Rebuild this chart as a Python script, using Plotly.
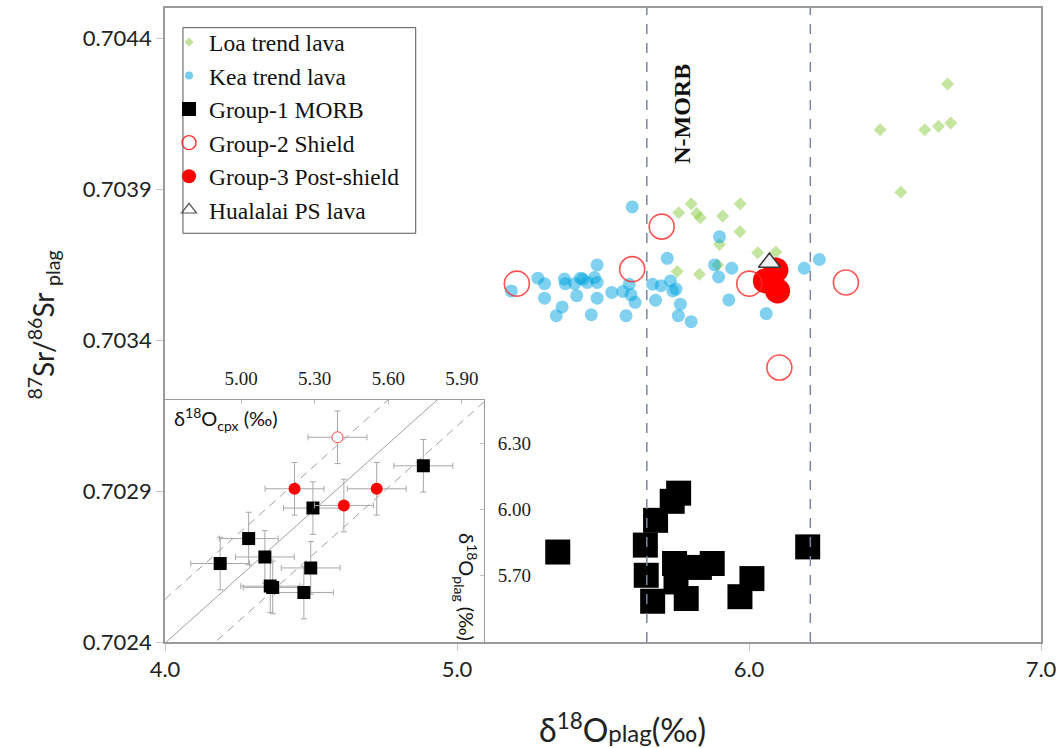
import plotly.graph_objects as go

# ---- Loa-trend lavas (d18O plag, 87Sr/86Sr plag)
loa_x = [5.759, 5.802, 5.821, 5.833, 5.910, 5.970, 5.969, 5.899, 6.030, 6.092,
         5.754, 5.830, 5.893, 6.680, 6.449, 6.602, 6.649, 6.691, 6.520]
loa_y = [0.703822, 0.703852, 0.703819, 0.703805, 0.703811, 0.703852, 0.703759, 0.703717, 0.703689, 0.703692,
         0.703627, 0.703618, 0.703649, 0.704248, 0.704097, 0.704097, 0.704108, 0.704119, 0.703890]

# ---- Kea-trend lavas
kea_x = [5.480, 5.186, 5.277, 5.300, 5.300, 5.340, 5.360, 5.368, 5.371, 5.403,
         5.410, 5.423, 5.431, 5.446, 5.471, 5.480, 5.480, 5.460, 5.530, 5.568,
         5.590, 5.596, 5.610, 5.579, 5.600, 5.670, 5.680, 5.699, 5.720, 5.731,
         5.739, 5.750, 5.765, 5.758, 5.802, 5.899, 5.882, 5.896, 5.941, 5.931,
         6.059, 6.189, 6.241]
kea_y = [0.703649, 0.703563, 0.703605, 0.703587, 0.703539, 0.703481, 0.703510, 0.703602, 0.703587, 0.703587,
         0.703547, 0.703605, 0.703602, 0.703591, 0.703607, 0.703591, 0.703539, 0.703484, 0.703558, 0.703561,
         0.703585, 0.703550, 0.703525, 0.703481, 0.703841, 0.703585, 0.703532, 0.703580, 0.703671, 0.703596,
         0.703563, 0.703569, 0.703519, 0.703481, 0.703461, 0.703742, 0.703649, 0.703609, 0.703638, 0.703533,
         0.703488, 0.703638, 0.703667]

# ---- Group-1 MORB
g1_x = [5.345, 5.759, 5.737, 5.680, 5.645, 5.648, 5.670, 5.745, 5.874, 5.830,
        5.750, 5.785, 6.010, 5.969, 6.201]
g1_y = [0.702698, 0.702893, 0.702866, 0.702803, 0.702721, 0.702621, 0.702535, 0.702660, 0.702660, 0.702647,
        0.702599, 0.702544, 0.702610, 0.702550, 0.702715]

# ---- Group-2 Shield
g2_x = [5.205, 5.600, 5.701, 6.001, 6.332, 6.104]
g2_y = [0.703587, 0.703635, 0.703776, 0.703587, 0.703591, 0.703309]

# ---- Group-3 Post-shield
g3_x = [6.092, 6.098, 6.056]
g3_y = [0.703632, 0.703563, 0.703596]

# ---- Hualalai post-shield lava
hu_x = [6.070]
hu_y = [0.703657]

# ---- N-MORB d18O plag range
nmorb_bounds = [5.65, 6.21]

# ---- Inset: d18O cpx vs d18O plag
in_g1_cpx = [5.743, 5.293, 5.031, 5.097, 4.915, 5.284, 5.119, 5.129, 5.256]
in_g1_plag = [6.199, 6.006, 5.867, 5.783, 5.753, 5.733, 5.650, 5.644, 5.621]
in_g2_cpx = [5.393]
in_g2_plag = [6.329]
in_g3_cpx = [5.218, 5.553, 5.419]
in_g3_plag = [6.094, 6.094, 6.018]
inset_err = 0.12
fractionation = [0.5, 0.7, 0.9]   # plag - cpx offsets
inset_xrange = [4.69, 5.99]
inset_yrange = [5.395, 6.50]

main_ticks_x = [4.0, 5.0, 6.0, 7.0]
main_ticks_y = [0.7024, 0.7029, 0.7034, 0.7039, 0.7044]
inset_ticks_x = [5.00, 5.30, 5.60, 5.90]
inset_ticks_y = [5.70, 6.00, 6.30]

SANS = "Lato"
SERIF = "Liberation Serif"
AX = "#9a9a9a"
SHIELD_RED = "rgba(255,40,40,0.8)"

fig = go.Figure()

# main data
fig.add_trace(go.Scatter(x=loa_x, y=loa_y, mode="markers", showlegend=False,
                         marker=dict(symbol="diamond", size=10, color="rgba(146,208,80,0.55)",
                                     line=dict(width=0))))
fig.add_trace(go.Scatter(x=kea_x, y=kea_y, mode="markers", showlegend=False,
                         marker=dict(symbol="circle", size=13, color="rgba(0,164,224,0.5)",
                                     line=dict(width=0))))
fig.add_trace(go.Scatter(x=g1_x, y=g1_y, mode="markers", showlegend=False,
                         marker=dict(symbol="square", size=25, color="black", line=dict(width=0))))
fig.add_trace(go.Scatter(x=g3_x, y=g3_y, mode="markers", showlegend=False,
                         marker=dict(symbol="circle", size=25, color="#ff0000", line=dict(width=0))))
fig.add_trace(go.Scatter(x=g2_x, y=g2_y, mode="markers", showlegend=False,
                         marker=dict(symbol="circle-open", size=25, color=SHIELD_RED,
                                     line=dict(width=1.6))))
fig.add_trace(go.Scatter(x=hu_x, y=hu_y, mode="markers", showlegend=False,
                         marker=dict(symbol="triangle-up", size=19, color="#eef0f0",
                                     line=dict(width=1.5, color="#3a3a3a"))))

# legend entries
legend_items = [
    ("Loa trend lava", dict(symbol="diamond", size=7, color="rgba(146,208,80,0.6)", line=dict(width=0))),
    ("Kea trend lava", dict(symbol="circle", size=8, color="rgba(0,164,224,0.55)", line=dict(width=0))),
    ("Group-1 MORB", dict(symbol="square", size=14, color="black", line=dict(width=0))),
    ("Group-2 Shield", dict(symbol="circle-open", size=14, color="#ff3030", line=dict(width=1.4))),
    ("Group-3 Post-shield", dict(symbol="circle", size=14, color="#ff0000", line=dict(width=0))),
    ("Hualalai PS lava", dict(symbol="triangle-up-open", size=13, color="#555555", line=dict(width=1.2))),
]
for i, (name, mk) in enumerate(legend_items):
    fig.add_trace(go.Scatter(x=[None], y=[None], mode="markers", name=name, marker=mk,
                             legendgroup=f"g{i}", showlegend=True))

# inset reference lines plag = cpx + offset
for off in fractionation:
    fig.add_trace(go.Scatter(x=inset_xrange, y=[v + off for v in inset_xrange], mode="lines",
                             xaxis="x2", yaxis="y2", showlegend=False, hoverinfo="skip",
                             line=dict(color="#a0a0a0", width=1,
                                       dash="solid" if off == 0.7 else "8px,6px")))

err = dict(type="constant", value=inset_err, color="#a8a8a8", thickness=1, width=3)
fig.add_trace(go.Scatter(x=in_g1_cpx, y=in_g1_plag, mode="markers", xaxis="x2", yaxis="y2",
                         showlegend=False, error_x=err, error_y=err,
                         marker=dict(symbol="square", size=13, color="black")))
fig.add_trace(go.Scatter(x=in_g3_cpx, y=in_g3_plag, mode="markers", xaxis="x2", yaxis="y2",
                         showlegend=False, error_x=err, error_y=err,
                         marker=dict(symbol="circle", size=12, color="#ff0000")))
fig.add_trace(go.Scatter(x=in_g2_cpx, y=in_g2_plag, mode="markers", xaxis="x2", yaxis="y2",
                         showlegend=False, error_x=err, error_y=err,
                         marker=dict(symbol="circle", size=11, color="white",
                                     line=dict(width=1, color="#ff4040"))))

# legend frame
fig.add_shape(type="rect", xref="paper", yref="paper", x0=0.0205, x1=0.2862, y0=0.6447, y1=0.969,
              line=dict(color="#555", width=1), fillcolor="white", layer="below")

# N-MORB bounds
for xb in nmorb_bounds:
    fig.add_shape(type="line", xref="x", yref="paper", x0=xb, x1=xb, y0=0, y1=1,
                  line=dict(color="#7886a4", width=1.5, dash="10px,9px"))

fig.add_annotation(x=5.772, y=0.704151, xref="x", yref="y", text="<b>N-MORB</b>",
                   textangle=-90, showarrow=False,
                   font=dict(family=SERIF, size=24, color="#111"))

fig.add_annotation(x=0.008, y=0.352, xref="paper", yref="paper", xanchor="left", yanchor="middle",
                   text="δ<sup>18</sup>O<sub>cpx</sub> (‰)", showarrow=False,
                   font=dict(family=SANS, size=20, color="#111"))
fig.add_annotation(x=0.343, y=0.086, xref="paper", yref="paper", xanchor="center", yanchor="middle",
                   text="δ<sup>18</sup>O<sub>plag</sub> (‰)", textangle=90, showarrow=False,
                   font=dict(family=SANS, size=20, color="#111"))

# x-axis title
fig.add_annotation(x=0.522, y=-0.135, xref="paper", yref="paper", xanchor="center", yanchor="middle",
                   text="δ<sup>18</sup>O<span style='font-size:24px'>plag</span>(‰)", showarrow=False,
                   font=dict(family=SANS, size=32, color="#222"))

fig.update_layout(
    width=1063, height=748,
    margin=dict(l=165, r=21, t=6, b=106),
    paper_bgcolor="white", plot_bgcolor="white",
    xaxis=dict(range=[4, 7], tickvals=main_ticks_x, ticktext=[f"{v:.1f}" for v in main_ticks_x],
               showline=True, linecolor=AX, linewidth=1.5, mirror=True,
               ticks="outside", ticklen=7, tickcolor="#c8c8c8", showgrid=False, zeroline=False,
               tickfont=dict(family=SANS, size=22, color="#222")),
    yaxis=dict(range=[0.7024, 0.7045], tickvals=main_ticks_y, ticktext=[f"{v:.4f}" for v in main_ticks_y],
               showline=True, linecolor=AX, linewidth=1.5, mirror=True,
               ticks="outside", ticklen=7, tickcolor="#c8c8c8", showgrid=False, zeroline=False,
               tickfont=dict(family=SANS, size=22, color="#222"),
               title=dict(text="<sup>87</sup>Sr/<sup>86</sup>Sr <sub>plag</sub>", standoff=20,
                          font=dict(family=SANS, size=28, color="#222"))),
    xaxis2=dict(domain=[0, 0.3641], range=inset_xrange, anchor="y2", side="top",
                tickvals=inset_ticks_x, ticktext=[f"{v:.2f}" for v in inset_ticks_x],
                showline=True, linecolor=AX, linewidth=1.2, mirror=True,
                ticks="inside", ticklen=4, tickcolor="#c0c0c0", showgrid=False, zeroline=False,
                ticklabelstandoff=6,
                tickfont=dict(family=SERIF, size=19, color="#222")),
    yaxis2=dict(domain=[0, 0.382], range=inset_yrange, anchor="x2", side="right",
                tickvals=inset_ticks_y, ticktext=[f"{v:.2f}" for v in inset_ticks_y],
                showline=True, linecolor=AX, linewidth=1.2, mirror=True,
                ticks="inside", ticklen=4, tickcolor="#c0c0c0", showgrid=False, zeroline=False,
                ticklabelstandoff=9,
                tickfont=dict(family=SERIF, size=19, color="#222")),
    legend=dict(x=0.0046, y=0.9807, xanchor="left", yanchor="top",
                bgcolor="rgba(0,0,0,0)", borderwidth=0,
                font=dict(family=SERIF, size=23.5, color="#111"),
                traceorder="grouped", tracegroupgap=0, itemwidth=30),
    showlegend=True,
)

fig.write_html("out.html")
